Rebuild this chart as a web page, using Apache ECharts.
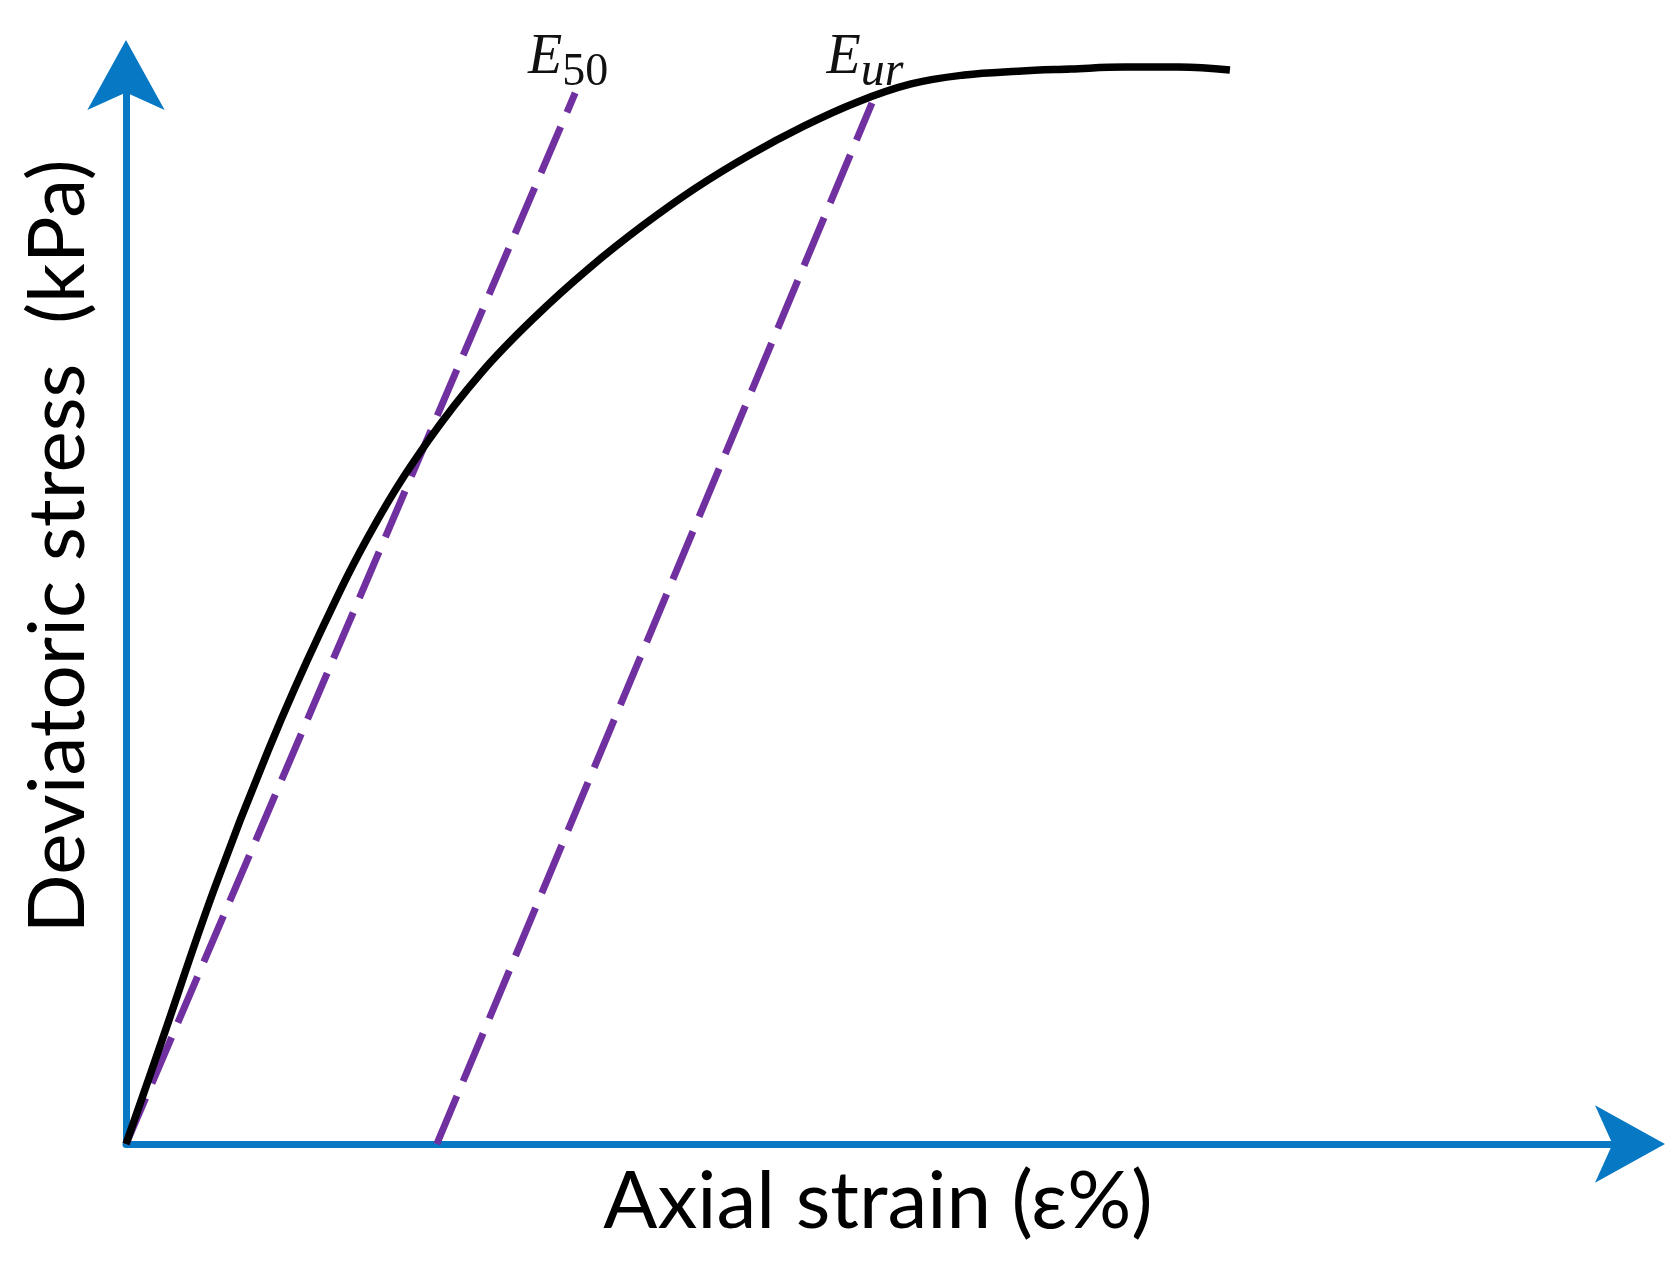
<!DOCTYPE html>
<html>
<head>
<meta charset="utf-8">
<title>Stress-strain</title>
<script src="https://cdn.jsdelivr.net/npm/echarts@6.0.0/dist/echarts.min.js"></script>
<style>
  html, body { margin: 0; padding: 0; background: #fff; }
  #chart { width: 1680px; height: 1274px; }
</style>
</head>
<body>
<div id="chart"></div>
<script>
// stress-strain curve (arbitrary units)
const strain = [0, 0.35, 0.88, 1.42, 1.94, 2.48, 3.02, 3.55, 4.09, 4.62, 5.16, 5.68, 6.22, 6.76, 7.29, 7.83, 8.36, 8.90, 9.42, 9.96, 10.50, 11.01]
const stress = [0, 47.2, 119.3, 184.3, 239.5, 289.5, 329.3, 361.1, 387.3, 409.7, 429.8, 447.1, 462.6, 476.1, 487.3, 495.8, 500.0, 501.8, 502.8, 503.7, 503.7, 502.3]

// secant modulus E50 and unload/reload modulus Eur lines
const e50Strain = [0, 4.48]
const e50Stress = [0, 491.6]
const eurStrain = [3.10, 7.44]
const eurStress = [0, 486.9]

const xName = 'Axial strain (ε%)'
const yName = 'Deviatoric stress  (kPa)'

const axisBlue = '#0779c4'
const purple = '#7030a0'

function pairs(xs, ys) {
  return xs.map((x, i) => [x, ys[i]])
}

// E sits at the top of the line box, the subscript at its bottom
const richText = {
  e: {
    fontFamily: 'Liberation Serif',
    fontStyle: 'italic',
    fontSize: 56,
    lineHeight: 56,
    color: '#111',
    verticalAlign: 'top'
  },
  n: {
    fontFamily: 'Liberation Serif',
    fontSize: 46,
    lineHeight: 66,
    color: '#111',
    verticalAlign: 'bottom'
  },
  i: {
    fontFamily: 'Liberation Serif',
    fontStyle: 'italic',
    fontSize: 48,
    lineHeight: 66,
    color: '#111',
    verticalAlign: 'bottom'
  }
}

// put a label on the top end of a modulus line
function withEndLabel(data, text, offset) {
  const last = data.length - 1
  data[last] = {
    value: data[last],
    label: {
      show: true,
      position: 'top',
      distance: 0,
      offset: offset,
      formatter: text,
      rich: richText
    }
  }
  return data
}

const axisCommon = {
  type: 'value',
  min: 0,
  axisTick: {show: false},
  axisLabel: {show: false},
  splitLine: {show: false},
  axisLine: {
    show: true,
    symbol: ['none', 'arrow'],
    symbolSize: [58, 70],
    symbolOffset: [0, 35],
    lineStyle: {color: axisBlue, width: 7}
  },
  nameLocation: 'middle'
}

const chart = echarts.init(document.getElementById('chart'), null, {renderer: 'canvas'})

chart.setOption({
  backgroundColor: '#fff',
  animation: false,
  grid: {
    left: 126,
    right: 50,
    top: 75,
    bottom: 130,
    outerBoundsMode: 'none'
  },
  xAxis: Object.assign({}, axisCommon, {
    max: 15,
    name: xName,
    nameGap: 18,
    nameTextStyle: {fontFamily: 'Lato', fontSize: 80, color: '#000'}
  }),
  yAxis: Object.assign({}, axisCommon, {
    max: 500,
    name: yName,
    nameRotate: 90,
    nameGap: 28,
    // left padding lifts the rotated title above the grid centre
    nameTextStyle: {fontFamily: 'Lato', fontSize: 78, color: '#000', padding: [0, 0, 0, 126]}
  }),
  series: [
    {
      name: 'E50',
      type: 'line',
      symbol: 'circle',
      symbolSize: 0,
      clip: false,
      lineStyle: {color: purple, width: 7, type: [50, 16]},
      data: withEndLabel(pairs(e50Strain, e50Stress), '{e|E}{n|50}', [-7, 3])
    },
    {
      name: 'Eur',
      type: 'line',
      symbol: 'circle',
      symbolSize: 0,
      clip: false,
      lineStyle: {color: purple, width: 7, type: [52, 16]},
      data: withEndLabel(pairs(eurStrain, eurStress), '{e|E}{i|ur}', [-7, -7])
    },
    {
      name: 'curve',
      type: 'line',
      symbol: 'none',
      smooth: 0.4,
      clip: false,
      lineStyle: {color: '#000', width: 7.5},
      data: pairs(strain, stress)
    }
  ]
})
</script>
</body>
</html>
